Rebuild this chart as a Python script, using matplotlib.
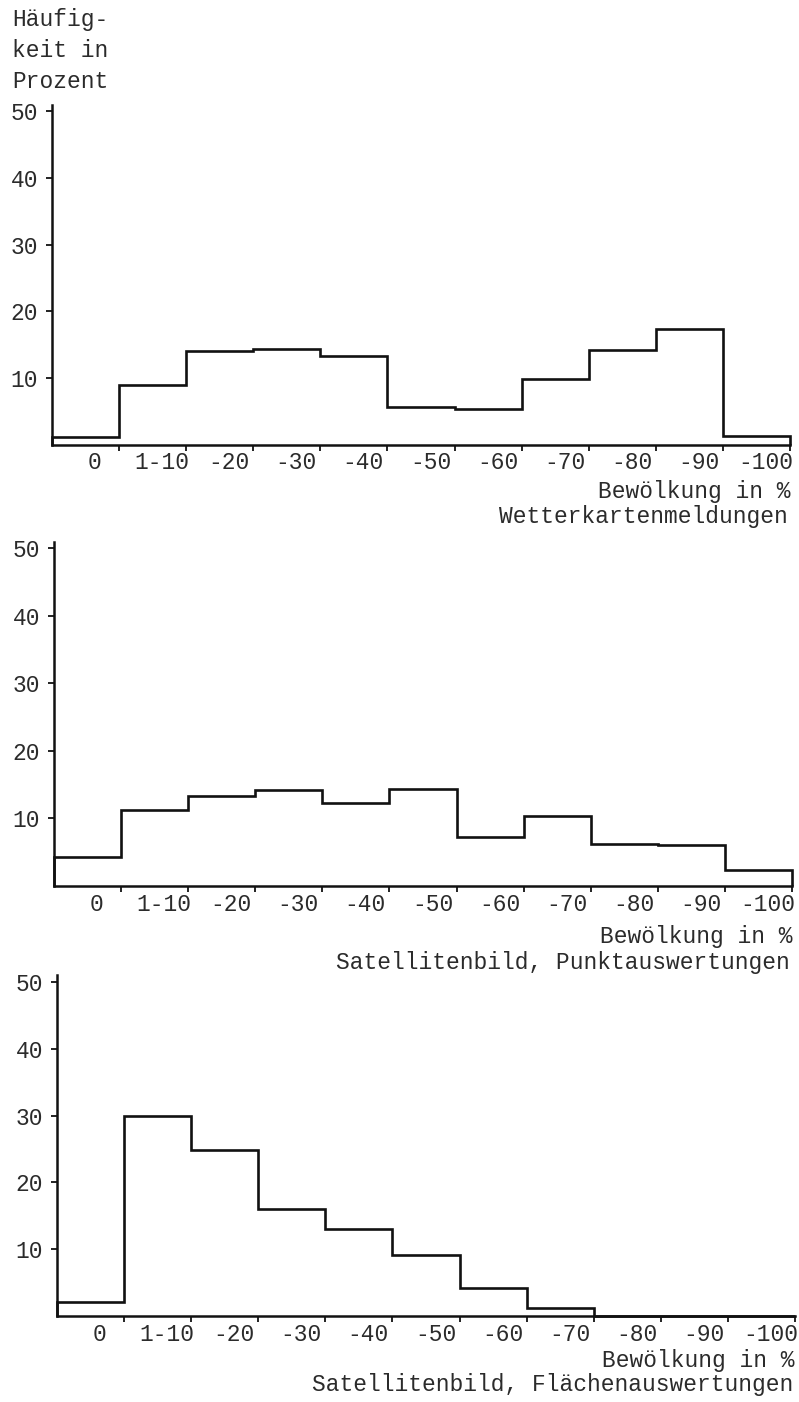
import numpy as np
import matplotlib
matplotlib.use("Agg")
import matplotlib.pyplot as plt

# Bewölkungsklassen (x axis) and y ticks
categories = ["0", "1-10", "-20", "-30", "-40", "-50", "-60", "-70", "-80", "-90", "-100"]
y_ticks = [10, 20, 30, 40, 50]

# Häufigkeit in Prozent
wetterkarten = [1.1, 9.0, 14.1, 14.3, 13.3, 5.7, 5.4, 9.9, 14.2, 17.4, 1.3]
punkt = [4.2, 11.2, 13.3, 14.2, 12.2, 14.3, 7.3, 10.3, 6.2, 6.1, 2.4]
flaechen = [2.2, 29.9, 24.9, 16.0, 13.0, 9.1, 4.2, 1.2, 0.0, 0.0, 0.0]

subtitles = ["Wetterkartenmeldungen",
             "Satellitenbild, Punktauswertungen",
             "Satellitenbild, Flächenauswertungen"]
x_label = "Bewölkung in %"
y_label = "Häufig-\nkeit in\nProzent"

W, H = 799, 1402
FONT = "Liberation Mono"
FS = 16.5
INK = "#111111"
TXT = "#2b2b2b"

plt.rcParams["font.family"] = [FONT, "DejaVu Sans Mono"]

fig = plt.figure(figsize=(W / 100, H / 100), dpi=100)


def px_axes(left, right, top, bottom):
    return [left / W, 1 - bottom / H, (right - left) / W, (bottom - top) / H]


# (left, right, top, zero line) in pixels, plus y for the two caption lines
panels = [
    (wetterkarten, (52, 790, 104.5, 444.5), 492, 517),
    (punkt, (54, 792, 541.5, 885.8), 936, 962),
    (flaechen, (57, 795, 975.1, 1316.3), 1360, 1385),
]

edges = np.arange(len(categories) + 1)
centers = edges[:-1] + 0.5

for (values, box, y_xlab, y_sub), subtitle in zip(panels, subtitles):
    ax = fig.add_axes(px_axes(*box))
    ax.stairs(values, edges, baseline=0, color=INK, linewidth=1.9, clip_on=False)

    ax.set_xlim(0, len(categories))
    ax.set_ylim(0, 51)
    for side in ["top", "right"]:
        ax.spines[side].set_visible(False)
    for side in ["left", "bottom"]:
        ax.spines[side].set_linewidth(1.8)
        ax.spines[side].set_color(INK)

    ax.set_yticks(y_ticks)
    ax.set_yticklabels([str(v) for v in y_ticks], fontsize=FS, color=TXT)
    ax.tick_params(axis="y", direction="out", length=4, width=1.3, pad=6, color=INK)

    ax.set_xticks(edges[1:])
    ax.set_xticklabels([])
    ax.set_xticks(centers + 0.14, minor=True)
    ax.set_xticklabels(categories, minor=True, fontsize=FS, color=TXT)
    ax.tick_params(axis="x", which="major", direction="out", length=4, width=1.3, color=INK)
    ax.tick_params(axis="x", which="minor", length=0, pad=5)

    right_px = box[1]
    fig.text(right_px / W, 1 - y_xlab / H, x_label, ha="right", va="center",
             fontsize=FS, color=TXT)
    fig.text((right_px - 2) / W, 1 - y_sub / H, subtitle,
             ha="right", va="center", fontsize=FS, color=TXT)

fig.text(12 / W, 1 - 8 / H, y_label, ha="left", va="top", fontsize=FS,
         color=TXT, linespacing=1.45)

fig.savefig("out.png", dpi=100, facecolor="white")
